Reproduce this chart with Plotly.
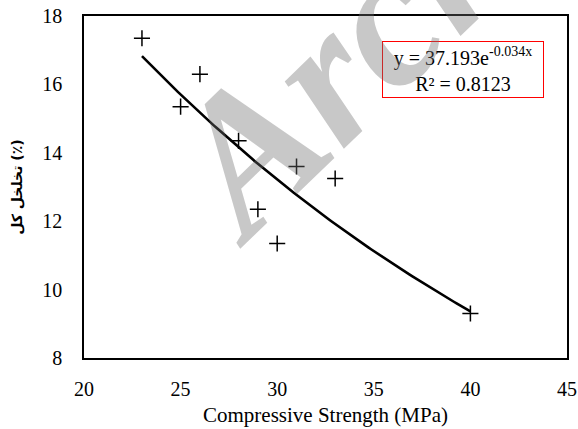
import numpy as np
import plotly.graph_objects as go

# Data
strength = [23, 25, 26, 28, 29, 30, 31, 33, 40]
porosity = [17.35, 15.35, 16.3, 14.35, 12.35, 11.35, 13.6, 13.25, 9.3]
x_ticks = [20, 25, 30, 35, 40, 45]
y_ticks = [8, 10, 12, 14, 16, 18]
eq_text = "y = 37.193e<sup>-0.034x</sup><br>R² = 0.8123"
x_title = "Compressive Strength (MPa)"
y_title = "تخلخل کل (٪)"
watermark = "Archive"

# Exponential trendline (least squares on ln y, as Excel does)
b, ln_a = np.polyfit(np.array(strength, float), np.log(np.array(porosity, float)), 1)
tx = np.linspace(min(strength), max(strength), 120)
ty = np.exp(ln_a) * np.exp(b * tx)

SERIF = "Liberation Serif, Times New Roman, Times, serif"

fig = go.Figure()
fig.add_trace(go.Scatter(x=tx, y=ty, mode="lines",
                         line=dict(color="black", width=2.6),
                         hoverinfo="skip", showlegend=False))
fig.add_trace(go.Scatter(x=strength, y=porosity, mode="markers",
                         marker=dict(symbol="cross-thin", size=11.5,
                                     line=dict(color="black", width=1.5)),
                         showlegend=False))

tick_font = dict(family=SERIF, size=20, color="black")

fig.update_layout(
    width=578, height=429,
    margin=dict(l=84, r=11, t=16, b=71, autoexpand=False),
    paper_bgcolor="white", plot_bgcolor="white",
    font=dict(family=SERIF),
    xaxis=dict(range=[20, 45], tickvals=x_ticks, showgrid=False, zeroline=False,
               showline=True, linecolor="black", linewidth=1.7, mirror=True,
               automargin=False,
               ticks="", ticklabelstandoff=12, tickfont=tick_font,
               title=dict(text=x_title, font=dict(family=SERIF, size=21, color="black"),
                          standoff=8)),
    yaxis=dict(range=[8, 18], tickvals=y_ticks, showgrid=False, zeroline=False,
               showline=True, linecolor="black", linewidth=1.7, mirror=True,
               automargin=False,
               ticks="", ticklabelstandoff=16, tickfont=tick_font,
               title=dict(text=y_title, font=dict(family="DejaVu Sans", size=14, color="black",
                                                 weight="bold"),
                          standoff=16)),
    annotations=[
        dict(text=eq_text, xref="paper", yref="paper", x=0.785, y=0.8436,
             xanchor="center", yanchor="middle", showarrow=False, align="center",
             font=dict(family=SERIF, size=20, color="black"),
             bordercolor="red", borderwidth=1, borderpad=0, width=160, height=55,
             bgcolor="rgba(0,0,0,0)"),
        dict(text=watermark, xref="paper", yref="paper", x=0.703, y=1.105,
             xanchor="center", yanchor="middle", showarrow=False, textangle=-44,
             font=dict(family=SERIF, size=195, color="rgba(110,110,110,0.38)",
                       weight="bold", style="italic")),
    ],
)

fig.write_html("out.html",
               config={"displayModeBar": False},
               post_script="document.body.style.margin='0';document.body.style.overflow='hidden';")
